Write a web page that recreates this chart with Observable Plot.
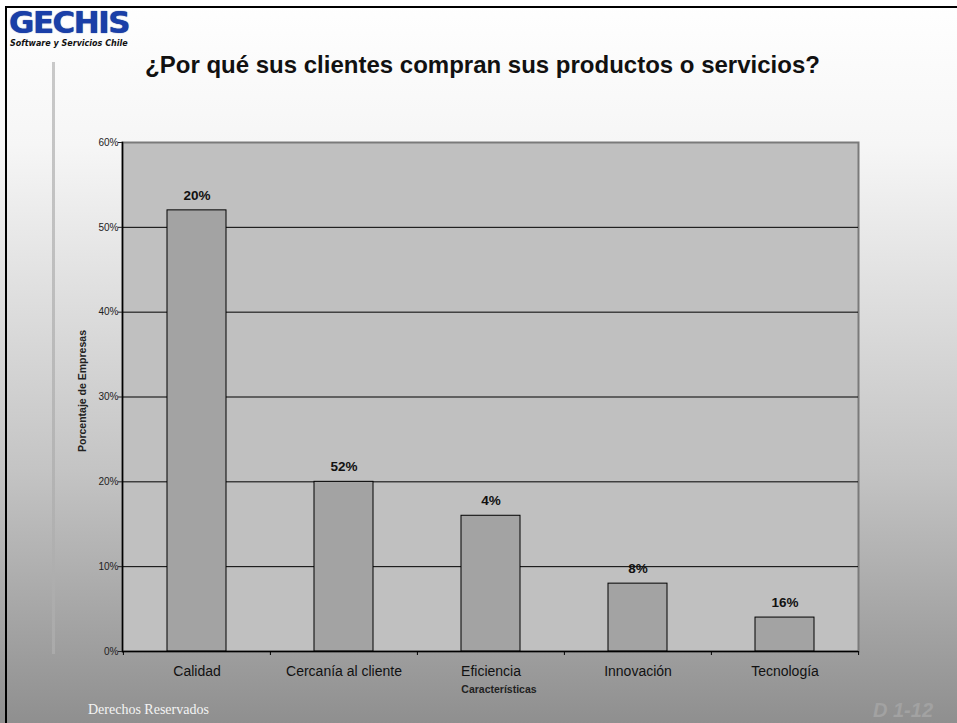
<!DOCTYPE html>
<html>
<head>
<meta charset="utf-8">
<script src="https://cdn.jsdelivr.net/npm/d3@7"></script>
<script src="https://cdn.jsdelivr.net/npm/@observablehq/plot@0.6"></script>
<style>
  html, body { margin: 0; padding: 0; }
  #slide {
    position: relative; width: 957px; height: 723px; overflow: hidden;
    background: linear-gradient(to bottom, #ffffff 0%, #f6f6f6 20%, #c4c4c4 65%, #8f8f8f 100%);
    font-family: "Liberation Sans", Arial, sans-serif;
  }
  #chart { position: absolute; left: 0; top: 0; }
  .abs { position: absolute; white-space: nowrap; }
</style>
</head>
<body>
<div id="slide">
  <div id="chart"></div>
  <div class="abs" style="left:5px;top:6px;width:952px;height:2px;background:#000"></div>
  <div class="abs" style="left:5px;top:6px;width:2px;height:717px;background:#000"></div>
  <div class="abs" style="left:52px;top:62px;width:3px;height:592px;background:linear-gradient(to bottom,#c9c9c9,#aaaaaa)"></div>
  <div class="abs" style="left:9px;top:7px;font-family:'DejaVu Sans',sans-serif;font-weight:900;font-size:31px;letter-spacing:-1.5px;color:#1a3fa8;line-height:30px;text-shadow:0 0 1px #0a2a80;">GECHIS</div>
  <div class="abs" style="left:10px;top:39px;font-family:'DejaVu Sans',sans-serif;font-weight:bold;font-style:italic;font-size:8px;line-height:9px;color:#111;">Software y Servicios Chile</div>
  <div id="title" class="abs" style="left:0;width:957px;top:51px;text-align:center;font-weight:bold;font-size:24px;color:#111;padding-left:8px;box-sizing:border-box;"></div>
  <div id="xtitle" class="abs" style="left:0;width:998px;top:683px;text-align:center;font-weight:bold;font-size:10.5px;color:#222;"></div>
  <div id="ytitle" class="abs" style="left:82px;top:391px;font-weight:bold;font-size:10.5px;color:#222;transform:translate(-50%,-50%) rotate(-90deg);"></div>
  <div id="footer" class="abs" style="left:88px;top:702px;font-family:'Liberation Serif',serif;font-size:14px;color:#f4f4f4;"></div>
  <div id="page" class="abs" style="left:873px;top:699px;font-weight:bold;font-style:italic;font-size:20px;color:#a2a2a2;"></div>
</div>
<script>
const titleText = "¿Por qué sus clientes compran sus productos o servicios?";
const xTitle = "Características";
const yTitle = "Porcentaje de Empresas";
const footerText = "Derechos Reservados";
const pageText = "D 1-12";

const categories = ["Calidad", "Cercanía al cliente", "Eficiencia", "Innovación", "Tecnología"];
const values = [0.52, 0.20, 0.16, 0.08, 0.04];
const valueLabels = ["20%", "52%", "4%", "8%", "16%"];
const yTicks = [0, 0.1, 0.2, 0.3, 0.4, 0.5, 0.6];
const gridTicks = [0.1, 0.2, 0.3, 0.4, 0.5];

document.getElementById("title").textContent = titleText;
document.getElementById("xtitle").textContent = xTitle;
document.getElementById("ytitle").textContent = yTitle;
document.getElementById("footer").textContent = footerText;
document.getElementById("page").textContent = pageText;

const data = categories.map((c, i) => ({cat: c, value: values[i], label: valueLabels[i]}));

const W = 957, H = 723, mL = 122, mR = 99, mT = 142, mB = 72;
const step = (W - mL - mR) / categories.length;

const chart = Plot.plot({
  width: W, height: H,
  marginLeft: mL, marginRight: mR, marginTop: mT, marginBottom: mB,
  style: {background: "transparent", fontFamily: "'Liberation Sans', Arial, sans-serif", overflow: "visible"},
  x: {domain: categories, paddingInner: 0.6, paddingOuter: 0.3, align: 0.5},
  y: {domain: [0, 0.6]},
  marks: [
    Plot.frame({fill: "#c0c0c0", stroke: "#7a7a7a", strokeWidth: 2}),
    Plot.ruleY(gridTicks, {stroke: "#000", strokeWidth: 1}),
    Plot.barY(data, {x: "cat", y: "value", fill: "#a3a3a3", stroke: "#000", strokeWidth: 1}),
    Plot.text(data, {x: "cat", y: "value", text: "label", dy: -15, fontWeight: "bold", fontSize: 13.5, fill: "#111"}),
    Plot.frame({anchor: "left", stroke: "#000", strokeWidth: 1.5}),
    Plot.ruleY([0], {stroke: "#000", strokeWidth: 1.5}),
    Plot.ruleX(categories, {x: d => d, y1: 0, y2: 0, insetBottom: -4, dx: -step / 2, stroke: "#000"}),
    Plot.ruleX(categories.slice(-1), {x: d => d, y1: 0, y2: 0, insetBottom: -4, dx: step / 2, stroke: "#000"}),
    Plot.axisY({ticks: yTicks, tickFormat: d3.format(".0%"), tickSize: 4, tickPadding: 0, fontSize: 10, color: "#222", label: null}),
    Plot.axisX({tickSize: 0, tickPadding: 15, fontSize: 14, color: "#111", label: null})
  ]
});
document.getElementById("chart").appendChild(chart);
</script>
</body>
</html>
